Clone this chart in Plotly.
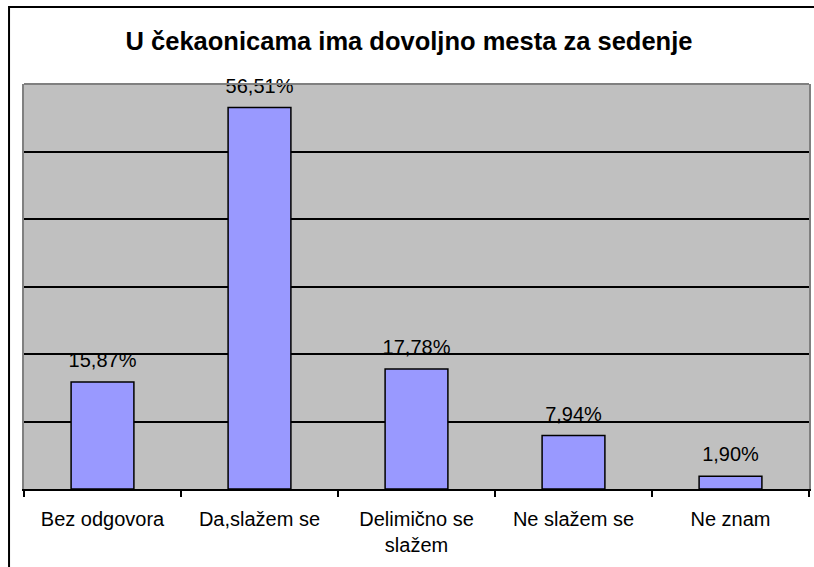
import plotly.graph_objects as go

categories = ["Bez odgovora", "Da,slažem se", "Delimično se<br>slažem", "Ne slažem se", "Ne znam"]
values = [15.87, 56.51, 17.78, 7.94, 1.90]
title_text = "U čekaonicama ima dovoljno mesta za sedenje"

W, H = 814, 567
ML, MR, MT, MB = 24, 3, 84, 78
pw = W - ML - MR
ph = H - MT - MB
FONT = "Liberation Sans, Arial, sans-serif"

fig = go.Figure()
fig.add_trace(go.Bar(
    x=categories, y=values, width=0.4,
    marker=dict(color="#9999FF", line=dict(color="black", width=1.5)),
    hoverinfo="skip",
))
fig.add_trace(go.Scatter(
    x=categories, y=values, mode="markers+text",
    marker=dict(size=14, opacity=0),
    texttemplate="%{y:.2f}%", textposition="top center",
    textfont=dict(family=FONT, size=20, color="black"),
    cliponaxis=False, hoverinfo="skip",
))

fig.update_layout(
    width=W, height=H,
    margin=dict(l=ML, r=MR, t=MT, b=MB),
    paper_bgcolor="white", plot_bgcolor="#C0C0C0",
    separators=",.",
    showlegend=False,
    title=dict(text="<b>" + title_text + "</b>", x=409 / W, xanchor="center",
               y=1 - 41 / H, yanchor="middle",
               font=dict(family=FONT, size=25.5, color="black")),
    font=dict(family=FONT, size=20, color="black"),
)
fig.update_yaxes(range=[0, 60], tickmode="array", tickvals=[10, 20, 30, 40, 50],
                 showticklabels=False, showgrid=True, gridcolor="black", gridwidth=1.5,
                 showline=True, linecolor="#808080", linewidth=2, mirror=True,
                 zeroline=False, ticks="")
fig.update_xaxes(showline=True, linecolor="black", linewidth=1.5,
                 ticks="outside", tickson="boundaries", ticklen=6, tickcolor="black",
                 tickwidth=1.5, showgrid=False, ticklabelstandoff=11,
                 tickfont=dict(family=FONT, size=20, color="black"))

# gray top edge of plot area
fig.add_shape(type="line", xref="paper", yref="paper", x0=0, x1=1, y0=1, y1=1,
              line=dict(color="#808080", width=2))
# outer chart border (left and top visible)
fig.add_shape(type="rect", xref="paper", yref="paper",
              x0=(9 - ML) / pw, x1=(W + 20 - ML) / pw,
              y0=-(H + 20 - MT - ph) / ph, y1=(MT + ph - 7) / ph,
              line=dict(color="black", width=2), fillcolor="rgba(0,0,0,0)")

fig.write_html("out.html", config={"displayModeBar": False},
               post_script="document.body.style.margin='0';document.body.style.overflow='hidden';")
